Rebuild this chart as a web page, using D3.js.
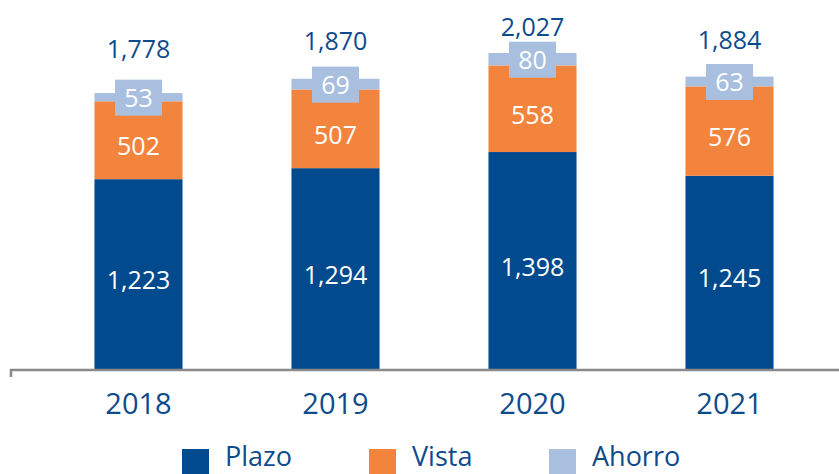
<!DOCTYPE html>
<html>
<head>
<meta charset="utf-8">
<script src="https://cdn.jsdelivr.net/npm/d3@7"></script>
<style>
  html, body { margin: 0; padding: 0; background: #fff; }
  svg { display: block; font-family: "Open Sans", sans-serif; }
</style>
</head>
<body>
<svg id="chart" width="839" height="474"></svg>
<script>
const years = ["2018", "2019", "2020", "2021"];
const seriesNames = ["Plazo", "Vista", "Ahorro"];
const plazo = [1223, 1294, 1398, 1245];
const vista = [502, 507, 558, 576];
const ahorro = [53, 69, 80, 63];
const totals = [1778, 1870, 2027, 1884];

const colors = { Plazo: "#004a8d", Vista: "#f3843d", Ahorro: "#a8bfe0" };
const textBlue = "#0d4b8c";

const svg = d3.select("#chart");
const baseY = 369;

const x = d3.scaleBand().domain(years).range([40, 828]).paddingInner(0.553).paddingOuter(0.2765);
const y = d3.scaleLinear().domain([0, 1000]).range([baseY, baseY - 155.2]);

const rows = years.map((yr, i) => ({ year: yr, Plazo: plazo[i], Vista: vista[i], Ahorro: ahorro[i], total: totals[i] }));
const stack = d3.stack().keys(seriesNames)(rows);

// bars
const g = svg.append("g");
stack.forEach(layer => {
  g.selectAll(null).data(layer).enter().append("rect")
    .attr("x", d => x(d.data.year))
    .attr("width", x.bandwidth())
    .attr("y", d => y(d[1]))
    .attr("height", d => y(d[0]) - y(d[1]))
    .attr("fill", colors[layer.key]);
});

// segment labels (Plazo, Vista)
stack.slice(0, 2).forEach(layer => {
  g.selectAll(null).data(layer).enter().append("text")
    .attr("x", d => x(d.data.year) + x.bandwidth() / 2)
    .attr("y", d => (y(d[0]) + y(d[1])) / 2 + 6)
    .attr("dy", "0.36em")
    .attr("text-anchor", "middle")
    .attr("fill", "#ffffff")
    .attr("font-size", 25)
    .text(d => d3.format(",")(d.data[layer.key]));
});

// Ahorro labels with background box
const ah = stack[2];
const boxW = 47, boxH = 36;
g.selectAll(null).data(ah).enter().append("rect")
  .attr("x", d => x(d.data.year) + x.bandwidth() / 2 - boxW / 2)
  .attr("y", d => (y(d[0]) + y(d[1])) / 2 - boxH / 2 + 0.5)
  .attr("width", boxW)
  .attr("height", boxH)
  .attr("fill", colors.Ahorro);
g.selectAll(null).data(ah).enter().append("text")
  .attr("x", d => x(d.data.year) + x.bandwidth() / 2)
  .attr("y", d => (y(d[0]) + y(d[1])) / 2 + 1)
  .attr("dy", "0.36em")
  .attr("text-anchor", "middle")
  .attr("fill", "#ffffff")
  .attr("font-size", 25)
  .text(d => d.data.Ahorro);

// total labels
g.selectAll(null).data(rows).enter().append("text")
  .attr("x", d => x(d.year) + x.bandwidth() / 2)
  .attr("y", d => 0.57 * y(d.total) + 5)
  .attr("text-anchor", "middle")
  .attr("fill", textBlue)
  .attr("font-size", 25)
  .text(d => d3.format(",")(d.total));

// axis
const axisG = svg.append("g").attr("transform", `translate(0,${baseY + 1})`);
const axis = d3.axisBottom(x).tickSize(0).tickPadding(34);
axisG.call(axis);
axisG.select(".domain").remove();
axisG.append("path")
  .attr("d", `M11,7V0H839`)
  .attr("fill", "none")
  .attr("stroke", "#8a8a8a")
  .attr("stroke-width", 2.5);
axisG.selectAll(".tick text")
  .attr("font-size", 29)
  .attr("font-family", "Open Sans, sans-serif")
  .attr("fill", textBlue)
  .attr("dy", "0")
  .attr("y", 44);

// legend
const legendX = [182, 369, 549];
const leg = svg.append("g");
seriesNames.forEach((name, i) => {
  leg.append("rect")
    .attr("x", legendX[i]).attr("y", 449)
    .attr("width", 27).attr("height", 25)
    .attr("fill", colors[name]);
  leg.append("text")
    .attr("x", legendX[i] + 43).attr("y", 466)
    .attr("fill", textBlue)
    .attr("font-size", 27)
    .text(name);
});
</script>
</body>
</html>
